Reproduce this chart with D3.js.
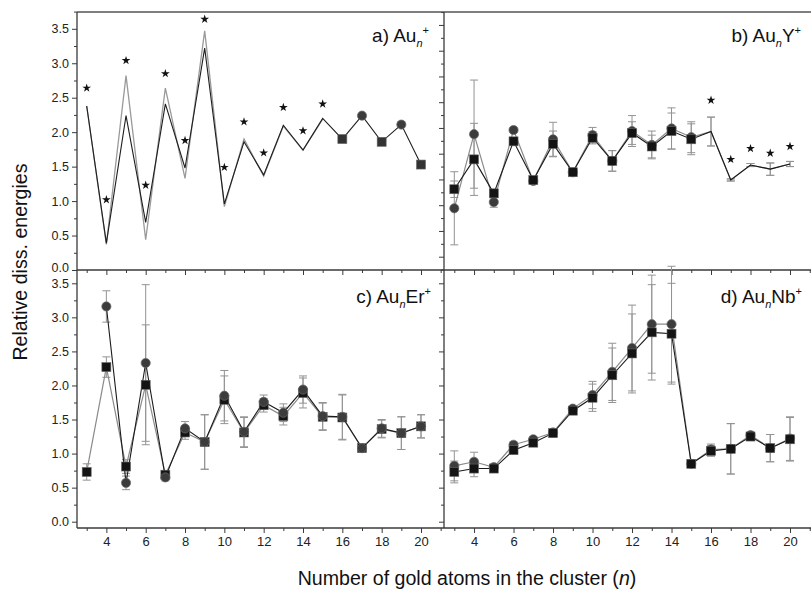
<!DOCTYPE html>
<html><head><meta charset="utf-8">
<script src="https://cdn.jsdelivr.net/npm/d3@7"></script>
<style>
html,body{margin:0;padding:0;background:#fff;}
svg{display:block;font-family:"Liberation Sans",Arial,Helvetica,sans-serif;}
</style></head>
<body>
<svg id="chart" width="811" height="589"></svg>
<script>
// ---------------- data ----------------
const nAll = [3,4,5,6,7,8,9,10,11,12,13,14,15,16,17,18,19,20];
const nTo15 = [3,4,5,6,7,8,9,10,11,12,13,14,15];
const nFrom4 = [4,5,6,7,8,9,10,11,12,13,14,15,16,17,18,19,20];

// a) Au_n+
const aBlack = [2.38,0.39,2.24,0.69,2.41,1.48,3.22,0.96,1.86,1.38,2.10,1.74,2.20,1.90,2.24,1.86,2.11,1.53];
const aGrey  = [2.38,0.37,2.82,0.44,2.64,1.33,3.47,0.92,1.90,1.36,2.09,1.74,2.19];
const aStars = [2.64,1.02,3.04,1.23,2.85,1.88,3.64,1.49,2.15,1.70,2.36,2.02,2.41];
const aSquareN = [16,18,20];
const aCircleN = [17,19];

// b) Au_nY+
const bSquares   = [1.31,1.89,1.23,2.24,1.49,2.19,1.64,2.31,1.86,2.40,2.14,2.44,2.28,2.43,1.49,1.78,1.70,1.80];
const bCircles   = [0.94,2.38,1.06,2.46,1.47,2.28,1.64,2.36,1.86,2.44,2.17,2.49,2.32,2.43,1.49,1.78,1.70,1.80];
const bSquareErr = [0.16,0.70,0.08,0.05,0.04,0.25,0.05,0.12,0.20,0.22,0.22,0.35,0.30,0.28,0.02,0.03,0.12,0.05];
const bCircleErr = [0.71,1.05,0.10,0.05,0.04,0.33,0.05,0.15,0.20,0.30,0.27,0.40,0.30,0.28,0.02,0.03,0.12,0.05];
const bMarkerN = nTo15;
const bStarN = [16,17,18,19,20];
const bStars = [3.04,1.89,2.10,2.01,2.14];

// c) Au_nEr+
const cSquares   = [0.73,2.27,0.81,2.01,0.69,1.31,1.17,1.79,1.31,1.71,1.55,1.89,1.54,1.53,1.08,1.36,1.30,1.40];
const cSquareErr = [0.12,0.15,0.10,0.88,0.05,0.10,0.40,0.35,0.22,0.10,0.13,0.22,0.20,0.33,0.05,0.13,0.24,0.17];
const cCircles   = [3.16,0.57,2.33,0.65,1.37,1.17,1.85,1.32,1.76,1.60,1.94,1.55,1.54,1.08,1.37,1.30,1.40];
const cCircleErr = [0.23,0.10,1.15,0.05,0.10,0.40,0.37,0.22,0.10,0.13,0.20,0.20,0.33,0.05,0.13,0.24,0.17];

// d) Au_nNb+
const dSquares   = [0.73,0.78,0.78,1.05,1.16,1.30,1.63,1.82,2.15,2.47,2.78,2.76,0.85,1.04,1.07,1.25,1.08,1.21];
const dCircles   = [0.82,0.88,0.80,1.13,1.21,1.31,1.66,1.86,2.20,2.55,2.90,2.90,0.85,1.06,1.07,1.27,1.08,1.22];
const dSquareErr = [0.16,0.12,0.05,0.04,0.04,0.04,0.04,0.20,0.40,0.58,0.70,0.74,0.03,0.08,0.37,0.05,0.20,0.32];
const dCircleErr = [0.22,0.14,0.05,0.04,0.04,0.04,0.04,0.20,0.42,0.63,0.72,0.85,0.03,0.08,0.37,0.05,0.20,0.32];

const xMajorTicks = [4,6,8,10,12,14,16,18,20];
const xMinorTicks = [3,5,7,9,11,13,15,17,19,21];
const yMajorTicks = [0,0.5,1,1.5,2,2.5,3,3.5];
const yMinorTicks = [0.25,0.75,1.25,1.75,2.25,2.75,3.25,3.75];
const bMajorTicks = [0,0.5,1,1.5,2,2.5,3,3.5,4,4.5];
const bMinorTicks = [-0.25,0.25,0.75,1.25,1.75,2.25,2.75,3.25,3.75,4.25,4.75];

// ---------------- layout ----------------
const L = 77, M = 444, R = 811, T = 12, H = 270, B = 528;
const svg = d3.select("#chart");
const FRAME = "#3a3a3a";

const xLeft  = d3.scaleLinear().domain([3,20]).range([86.7,421]);
const xRight = d3.scaleLinear().domain([3,20]).range([454.3,790]);
const yA = d3.scaleLinear().domain([0,3.5]).range([270,28.8]);
const yB = d3.scaleLinear().domain([0,4.5]).range([256.7,24.95]);
const yC = d3.scaleLinear().domain([0,3.5]).range([521.7,283.3]);

function inRange(scale, lo, hi){ return v => { const p = scale(v); return p >= lo-0.5 && p <= hi+0.5; }; }

// y axes (left side ticks)
function yAxis(scale, x, majors, minors, labels, top, bottom, labelDy){
  const g = svg.append("g").attr("transform",`translate(${x},0)`);
  const maj = majors.filter(inRange(scale, top, bottom));
  const min = minors.filter(inRange(scale, top, bottom));
  const ax = d3.axisLeft(scale).tickValues(maj).tickSize(5).tickSizeOuter(0)
     .tickFormat(labels ? d3.format(".1f") : () => "");
  g.call(ax);
  const axm = d3.axisLeft(scale).tickValues(min).tickSize(3).tickSizeOuter(0).tickFormat(() => "");
  const gm = svg.append("g").attr("transform",`translate(${x},0)`).call(axm);
  [g,gm].forEach(s=>{
    s.select(".domain").remove();
    s.selectAll(".tick line").attr("stroke",FRAME).attr("stroke-width",1);
    s.selectAll(".tick text").attr("font-size",12.5).attr("fill","#222").attr("x",-8);
  });
  if (labelDy) g.selectAll(".tick text").filter(d => d === 0).attr("dy", labelDy);
}
yAxis(yA, L, yMajorTicks, yMinorTicks, true, T, H, "0.15em");
yAxis(yC, L, yMajorTicks, yMinorTicks, true, H, B);
yAxis(yB, M, bMajorTicks, bMinorTicks, false, T, H);
yAxis(yC, M, yMajorTicks, yMinorTicks, false, H, B);

// x axes (downward ticks)
function xAxis(scale, y, labels){
  const g = svg.append("g").attr("transform",`translate(0,${y})`);
  g.call(d3.axisBottom(scale).tickValues(xMajorTicks).tickSize(5).tickSizeOuter(0)
     .tickFormat(labels ? d3.format("d") : () => ""));
  const gm = svg.append("g").attr("transform",`translate(0,${y})`)
     .call(d3.axisBottom(scale).tickValues(xMinorTicks.filter(v=>{const p=scale(v);return p>L && p<R;}))
     .tickSize(3).tickSizeOuter(0).tickFormat(() => ""));
  [g,gm].forEach(s=>{
    s.select(".domain").remove();
    s.selectAll(".tick line").attr("stroke",FRAME).attr("stroke-width",1);
    s.selectAll(".tick text").attr("font-size",13).attr("fill","#222").attr("y",9);
  });
}
xAxis(xLeft, H, false);
xAxis(xRight, H, false);
xAxis(xLeft, B, true);
xAxis(xRight, B, true);

// frame
const frame = svg.append("g").attr("stroke",FRAME).attr("fill","none");
frame.append("line").attr("x1",L).attr("x2",R).attr("y1",T).attr("y2",T).attr("stroke","#555").attr("stroke-width",1.6);
frame.append("line").attr("x1",L).attr("x2",L).attr("y1",T).attr("y2",B).attr("stroke-width",1.3);
frame.append("line").attr("x1",M).attr("x2",M).attr("y1",T).attr("y2",B).attr("stroke-width",1.3);
frame.append("line").attr("x1",L).attr("x2",R).attr("y1",H).attr("y2",H).attr("stroke-width",1.3);
frame.append("line").attr("x1",L).attr("x2",R).attr("y1",B).attr("y2",B).attr("stroke-width",1.3);

// ---------------- drawing helpers ----------------
const zip = (ns, vs, es) => ns.map((n,i)=>({n, v:vs[i], e: es ? es[i] : 0}));

function drawLine(x, y, pts, color, width){
  svg.append("path").datum(pts)
    .attr("fill","none").attr("stroke",color).attr("stroke-width",width||1.1)
    .attr("d", d3.line().x(d=>x(d.n)).y(d=>y(d.v)));
}
function drawErr(x, y, pts){
  const g = svg.append("g").attr("stroke","#939393").attr("stroke-width",1);
  pts.filter(d=>d.e>0).forEach(d=>{
    const cx = x(d.n), y1 = y(d.v + d.e), y2 = y(d.v - d.e);
    g.append("line").attr("x1",cx).attr("x2",cx).attr("y1",y1).attr("y2",y2);
    g.append("line").attr("x1",cx-4).attr("x2",cx+4).attr("y1",y1).attr("y2",y1);
    g.append("line").attr("x1",cx-4).attr("x2",cx+4).attr("y1",y2).attr("y2",y2);
  });
}
function drawSquares(x, y, pts, fill){
  svg.append("g").selectAll("rect").data(pts).join("rect")
    .attr("x",d=>x(d.n)-4.5).attr("y",d=>y(d.v)-4.5).attr("width",9).attr("height",9)
    .attr("fill",fill||"#141414").attr("stroke","#666").attr("stroke-width",0.6);
}
function drawCircles(x, y, pts){
  svg.append("g").selectAll("circle").data(pts).join("circle")
    .attr("cx",d=>x(d.n)).attr("cy",d=>y(d.v)).attr("r",4.6)
    .attr("fill","#3c3c3c").attr("stroke","#6a6a6a").attr("stroke-width",0.7);
}
function drawStars(x, y, pts){
  const sym = d3.symbol().type(d3.symbolStar).size(24);
  svg.append("g").selectAll("path").data(pts).join("path")
    .attr("transform",d=>`translate(${x(d.n)},${y(d.v)})`)
    .attr("d",sym).attr("fill","#111");
}

// ---------------- panel a ----------------
const aB = zip(nAll, aBlack);
const aG = zip(nTo15, aGrey);
drawLine(xLeft, yA, aG, "#9a9a9a", 1.3);
drawLine(xLeft, yA, aB, "#1e1e1e", 1.1);
drawStars(xLeft, yA, zip(nTo15, aStars));
drawSquares(xLeft, yA, aB.filter(d=>aSquareN.includes(d.n)), "#333");
drawCircles(xLeft, yA, aB.filter(d=>aCircleN.includes(d.n)));

// ---------------- panel b ----------------
const bS = zip(nAll, bSquares, bSquareErr);
const bC = zip(nAll, bCircles, bCircleErr);
drawErr(xRight, yB, bC);
drawErr(xRight, yB, bS);
drawLine(xRight, yB, bC, "#8a8a8a", 1.2);
drawLine(xRight, yB, bS, "#1a1a1a", 1.1);
drawCircles(xRight, yB, bC.filter(d=>bMarkerN.includes(d.n)));
drawSquares(xRight, yB, bS.filter(d=>bMarkerN.includes(d.n)));
drawStars(xRight, yB, zip(bStarN, bStars));

// ---------------- panel c ----------------
const cS = zip(nAll, cSquares, cSquareErr);
const cC = zip(nFrom4, cCircles, cCircleErr);
drawErr(xLeft, yC, cC);
drawErr(xLeft, yC, cS);
drawLine(xLeft, yC, cS, "#8a8a8a", 1.2);
drawLine(xLeft, yC, cC, "#1a1a1a", 1.1);
drawSquares(xLeft, yC, cS);
drawCircles(xLeft, yC, cC);

// ---------------- panel d ----------------
const dS = zip(nAll, dSquares, dSquareErr);
const dC = zip(nAll, dCircles, dCircleErr);
drawErr(xRight, yC, dC);
drawErr(xRight, yC, dS);
drawLine(xRight, yC, dC, "#8a8a8a", 1.2);
drawLine(xRight, yC, dS, "#1a1a1a", 1.1);
drawCircles(xRight, yC, dC);
drawSquares(xRight, yC, dS);

// ---------------- panel labels ----------------
function panelLabel(x, y, pre, post){
  const t = svg.append("text").attr("x",x).attr("y",y).attr("text-anchor","end")
    .attr("font-size",19).attr("fill","#111");
  t.append("tspan").text(pre + "Au");
  t.append("tspan").attr("font-style","italic").attr("font-size",11).attr("dy",5).text("n");
  if (post) t.append("tspan").attr("dy",-5).text(post);
  t.append("tspan").attr("font-size",11).attr("dy", post ? -8 : -13).text("+");
}
panelLabel(429, 42, "a) ", "");
panelLabel(801, 42, "b) ", "Y");
panelLabel(431, 303, "c) ", "Er");
panelLabel(802, 303, "d) ", "Nb");

// ---------------- axis titles ----------------
svg.append("text").attr("transform","translate(27,262) rotate(-90)")
  .attr("text-anchor","middle").attr("font-size",19.6).attr("fill","#111")
  .text("Relative diss. energies");
const xt = svg.append("text").attr("x",467).attr("y",585).attr("text-anchor","middle")
  .attr("font-size",19.6).attr("fill","#111");
xt.append("tspan").text("Number of gold atoms in the cluster (");
xt.append("tspan").attr("font-style","italic").text("n");
xt.append("tspan").text(")");
</script>
</body></html>
